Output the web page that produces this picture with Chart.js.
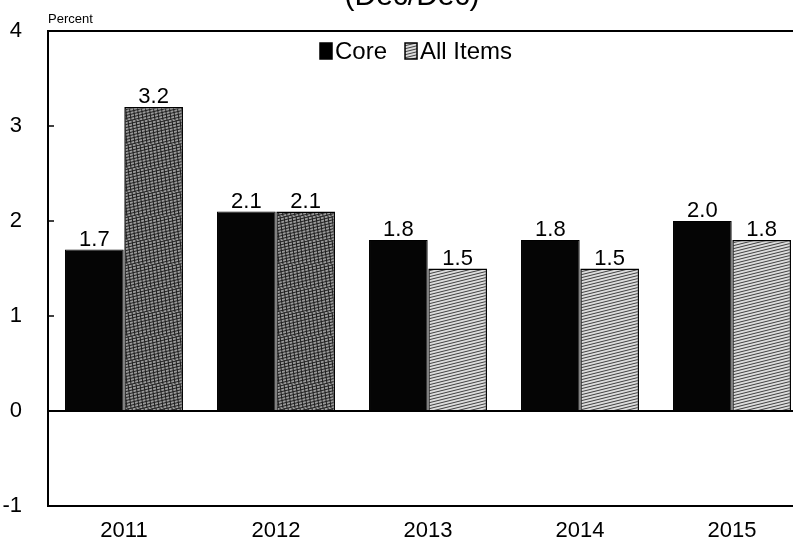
<!DOCTYPE html>
<html>
<head>
<meta charset="utf-8">
<script src="https://cdn.jsdelivr.net/npm/chart.js@4.4.0/dist/chart.umd.min.js"></script>
<style>
  html, body { margin: 0; padding: 0; background: #fff; }
  #frame { position: relative; width: 793px; height: 553px; overflow: hidden; }
  #wrap { position: absolute; left: 0; top: -24px; width: 812px; height: 580px; }
</style>
</head>
<body>
<div id="frame"><div id="wrap"><canvas id="c"></canvas></div></div>
<script>
// Consumer price inflation, year over year
const years = ['2011', '2012', '2013', '2014', '2015'];
const coreValues = [1.7, 2.1, 1.8, 1.8, 2.0];
const allItemsValues = [3.2, 2.1, 1.5, 1.5, 1.8];
const yMin = -1;
const yMax = 4;
const titleText = '(Dec/Dec)';
const unitText = 'Percent';
const FONT = '"Liberation Sans", Arial, sans-serif';

const canvas = document.getElementById('c');
const ctx = canvas.getContext('2d');

// Grainy hatched fills for the All Items bars
function hatchPattern(base, ink, step, cross) {
  const t = document.createElement('canvas');
  t.width = 24; t.height = 24;
  const g = t.getContext('2d');
  g.fillStyle = base;
  g.fillRect(0, 0, 24, 24);
  g.strokeStyle = ink;
  g.lineWidth = 1;
  for (let y = -24; y < 48; y += step) {
    g.beginPath();
    g.moveTo(0, y + 6);
    g.lineTo(24, y);
    g.stroke();
  }
  if (cross) {
    for (let x = -24; x < 48; x += 4) {
      g.beginPath();
      g.moveTo(x, 0);
      g.lineTo(x + 3, 24);
      g.stroke();
    }
  }
  return ctx.createPattern(t, 'repeat');
}
const darkFill = hatchPattern('#9a9a9a', '#1e1e1e', 3, true);
const lightFill = hatchPattern('#dcdcdc', '#404040', 3, false);
const allItemsFills = [darkFill, darkFill, lightFill, lightFill, lightFill];

const chromePlugin = {
  id: 'chrome',
  afterDatasetsDraw(chart) {
    const c = chart.ctx;
    const a = chart.chartArea;
    const y = chart.scales.y;
    c.save();
    // value labels above bars
    c.fillStyle = '#000';
    c.font = '22px ' + FONT;
    c.textAlign = 'center';
    c.textBaseline = 'bottom';
    chart.data.datasets.forEach((ds, i) => {
      chart.getDatasetMeta(i).data.forEach((el, j) => {
        c.fillText(ds.data[j].toFixed(1), el.x, el.y + 1);
      });
    });
    // top frame line
    c.strokeStyle = '#000';
    c.lineWidth = 2;
    c.beginPath();
    c.moveTo(a.left, a.top);
    c.lineTo(a.right, a.top);
    c.stroke();
    // inward tick marks on the value axis
    c.lineWidth = 1.5;
    for (let v = yMin + 1; v < yMax; v++) {
      const py = y.getPixelForValue(v);
      c.beginPath();
      c.moveTo(a.left, py);
      c.lineTo(a.left + 6, py);
      c.stroke();
    }
    // unit label
    c.font = '13px ' + FONT;
    c.textAlign = 'left';
    c.textBaseline = 'alphabetic';
    c.fillText(unitText, a.left, a.top - 8);
    // title (mostly above the visible page)
    c.font = '30px ' + FONT;
    c.textAlign = 'center';
    c.fillText(titleText, 412, 29);
    // legend inside the plot
    const ly = a.top + 20;
    let lx = a.left + 272;
    c.font = '24px ' + FONT;
    c.textAlign = 'left';
    c.textBaseline = 'middle';
    chart.data.datasets.forEach((ds, i) => {
      c.fillStyle = i === 0 ? '#000' : lightFill;
      c.fillRect(lx, ly - 8, 12, 16);
      c.lineWidth = 1.5;
      c.strokeStyle = '#000';
      c.strokeRect(lx, ly - 8, 12, 16);
      c.fillStyle = '#000';
      c.fillText(ds.label, lx + 15, ly + 1);
      lx += 15 + c.measureText(ds.label).width + 18;
    });
    c.restore();
  }
};

new Chart(canvas, {
  type: 'bar',
  data: {
    labels: years,
    datasets: [
      {
        label: 'Core',
        data: coreValues,
        backgroundColor: '#050505',
        borderColor: '#000',
        borderWidth: 1,
        categoryPercentage: 0.78,
        barPercentage: 0.99
      },
      {
        label: 'All Items',
        data: allItemsValues,
        backgroundColor: allItemsFills,
        borderColor: '#000',
        borderWidth: 1.5,
        categoryPercentage: 0.78,
        barPercentage: 0.99
      }
    ]
  },
  options: {
    responsive: true,
    maintainAspectRatio: false,
    animation: false,
    devicePixelRatio: 1,
    layout: { padding: { left: 0, right: 4, top: 55, bottom: 0 } },
    plugins: {
      legend: { display: false },
      tooltip: { enabled: false },
      title: { display: false }
    },
    scales: {
      x: {
        grid: { display: false, drawTicks: false },
        border: { display: true, color: '#000', width: 2 },
        ticks: { color: '#000', font: { family: FONT, size: 22 }, padding: 12 },
        afterFit(s) { s.height = 50; }
      },
      y: {
        min: yMin,
        max: yMax,
        ticks: { stepSize: 1, color: '#000', font: { family: FONT, size: 22 }, padding: 26 },
        grid: {
          drawTicks: false,
          lineWidth: 2,
          color: (ctx) => (ctx.tick && ctx.tick.value === 0 ? '#000' : 'rgba(0,0,0,0)')
        },
        border: { display: true, color: '#000', width: 2 },
        afterFit(s) { s.width = 48; }
      }
    }
  },
  plugins: [chromePlugin]
});
</script>
</body>
</html>
